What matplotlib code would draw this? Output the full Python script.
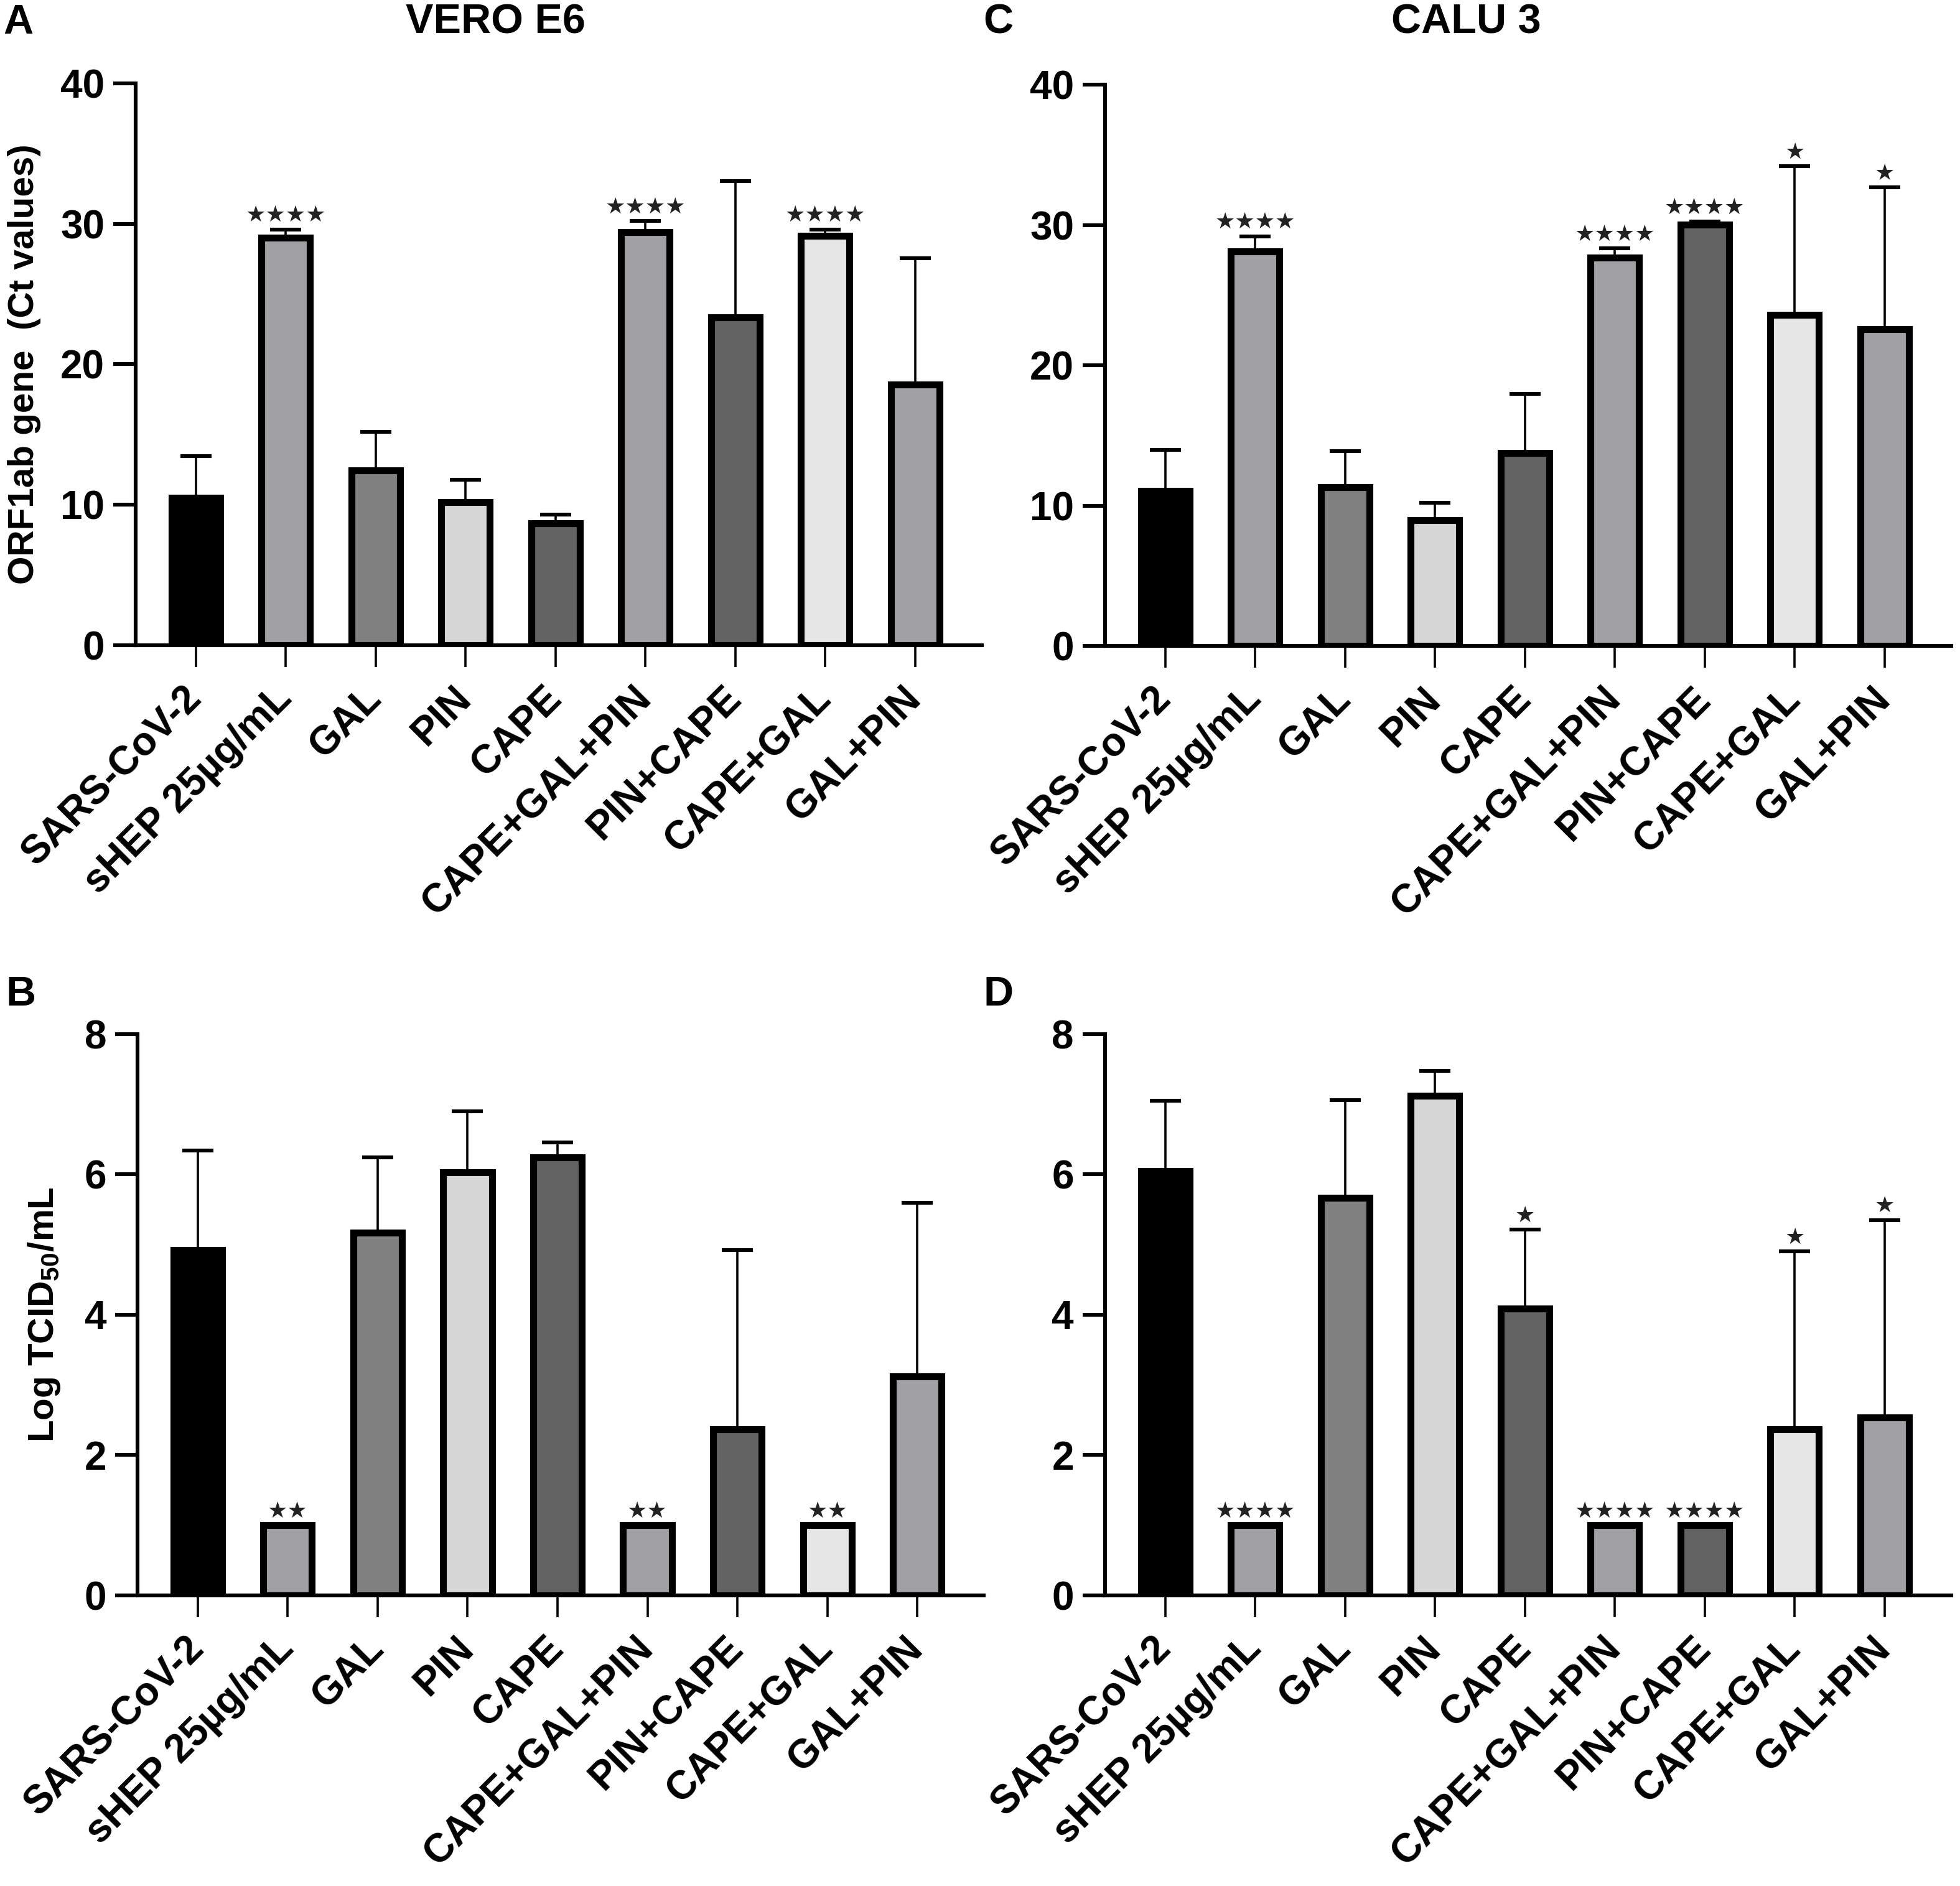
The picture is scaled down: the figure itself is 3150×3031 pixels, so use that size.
import numpy as np
import matplotlib
matplotlib.use("Agg")
import matplotlib.pyplot as plt

# groups on the x axis (same for all four panels)
groups = ['SARS-CoV-2', 'sHEP 25µg/mL', 'GAL', 'PIN', 'CAPE',
          'CAPE+GAL+PIN', 'PIN+CAPE', 'CAPE+GAL', 'GAL+PIN']
bar_colors = ['#000000', '#a1a1a5', '#808080', '#d6d6d6', '#636363',
              '#a1a1a5', '#636363', '#e6e6e6', '#a1a1a5']

# A - VERO E6, ORF1ab Ct values
vero_ct = [10.5, 29.0, 12.45, 10.2, 8.7, 29.4, 23.35, 29.15, 18.55]
vero_ct_sd = [2.95, 0.6, 2.75, 1.6, 0.6, 0.8, 9.7, 0.45, 9.0]
vero_ct_sig = ['', '****', '', '', '', '****', '', '****', '']

# B - VERO E6, Log TCID50/mL
vero_tcid = [4.92, 1.0, 5.17, 6.03, 6.24, 1.0, 2.37, 1.0, 3.12]
vero_tcid_sd = [1.42, 0.0, 1.07, 0.87, 0.22, 0.0, 2.55, 0.0, 2.48]
vero_tcid_sig = ['', '**', '', '', '', '**', '', '**', '']

# C - CALU 3, ORF1ab Ct values
calu_ct = [11.05, 28.15, 11.3, 8.95, 13.75, 27.7, 30.05, 23.6, 22.6]
calu_ct_sd = [2.95, 1.05, 2.6, 1.25, 4.2, 0.65, 0.2, 10.6, 10.1]
calu_ct_sig = ['', '****', '', '', '', '****', '****', '*', '*']

# D - CALU 3, Log TCID50/mL
calu_tcid = [6.05, 1.0, 5.67, 7.12, 4.09, 1.0, 1.0, 2.37, 2.54]
calu_tcid_sd = [1.0, 0.0, 1.39, 0.36, 1.12, 0.0, 0.0, 2.53, 2.81]
calu_tcid_sig = ['', '****', '', '', '*', '****', '****', '*', '*']

plt.rcParams['font.family'] = 'Liberation Sans'
plt.rcParams['font.weight'] = 'bold'
plt.rcParams['mathtext.fontset'] = 'custom'
plt.rcParams['mathtext.rm'] = 'Liberation Sans:bold'
plt.rcParams['mathtext.it'] = 'Liberation Sans:bold'
plt.rcParams['mathtext.bf'] = 'Liberation Sans:bold'
plt.rcParams['mathtext.default'] = 'rm'


def draw_panel(ax, vals, errs, sig, ymax, step, ylabel=None, label_x=-0.11):
    x = np.arange(len(groups))
    ax.errorbar(x, vals, yerr=[np.zeros(len(vals)), errs], fmt='none',
                ecolor='black', elinewidth=1.3, capsize=9, capthick=2.2, zorder=1)
    ax.bar(x, vals, width=0.54, color=bar_colors, edgecolor='black',
           linewidth=4, zorder=2)
    for xi, v, e, s in zip(x, vals, errs, sig):
        if s:
            ax.annotate('\u2605' * len(s), (xi, v + e), xytext=(0, 2),
                        textcoords='offset points', ha='center', va='bottom',
                        fontsize=13, family='DejaVu Sans', fontweight='normal',
                        color='#222222')
    ax.set_xlim(-0.67, 8.74)
    ax.set_ylim(0, ymax)
    ax.set_yticks(np.arange(0, ymax + step / 2, step))
    ax.set_xticks(x)
    ax.set_xticklabels(groups, rotation=45, ha='right', va='center',
                       rotation_mode='anchor', fontsize=23, fontweight='bold')
    for lab in ax.get_yticklabels():
        lab.set_fontsize(23)
        lab.set_fontweight('bold')
    ax.spines['top'].set_visible(False)
    ax.spines['right'].set_visible(False)
    ax.spines['left'].set_linewidth(2.2)
    ax.spines['bottom'].set_linewidth(2.2)
    ax.tick_params(axis='y', length=13, width=2.2, pad=5)
    ax.tick_params(axis='x', length=12.5, width=1.3, pad=15)
    if ylabel:
        ax.set_ylabel(ylabel, fontsize=21, fontweight='bold')
        ax.yaxis.set_label_coords(label_x, 0.5)


fig = plt.figure(figsize=(15.75, 15.155), dpi=200)
axA = fig.add_axes([0.0692, 0.6579, 0.4317, 0.2979])
axC = fig.add_axes([0.5638, 0.6575, 0.4317, 0.2975])
axB = fig.add_axes([0.0702, 0.1541, 0.4317, 0.2976])
axD = fig.add_axes([0.5638, 0.1541, 0.4317, 0.2976])

draw_panel(axA, vero_ct, vero_ct_sd, vero_ct_sig, 40, 10,
           'ORF1ab gene  (Ct values)', -0.112)
draw_panel(axB, vero_tcid, vero_tcid_sd, vero_tcid_sig, 8, 2,
           'Log TCID$_{50}$/mL', -0.089)
draw_panel(axC, calu_ct, calu_ct_sd, calu_ct_sig, 40, 10)
draw_panel(axD, calu_tcid, calu_tcid_sd, calu_tcid_sig, 8, 2)

fig.text(0.2527, 0.9878, 'VERO E6', ha='center', va='center', fontsize=24, fontweight='bold')
fig.text(0.748, 0.9878, 'CALU 3', ha='center', va='center', fontsize=24, fontweight='bold')
fig.text(0.0016, 0.9878, 'A', ha='left', va='center', fontsize=24, fontweight='bold')
fig.text(0.5016, 0.9878, 'C', ha='left', va='center', fontsize=24, fontweight='bold')
fig.text(0.003, 0.4724, 'B', ha='left', va='center', fontsize=24, fontweight='bold')
fig.text(0.5016, 0.4724, 'D', ha='left', va='center', fontsize=24, fontweight='bold')

fig.savefig('out.png', dpi=200)
